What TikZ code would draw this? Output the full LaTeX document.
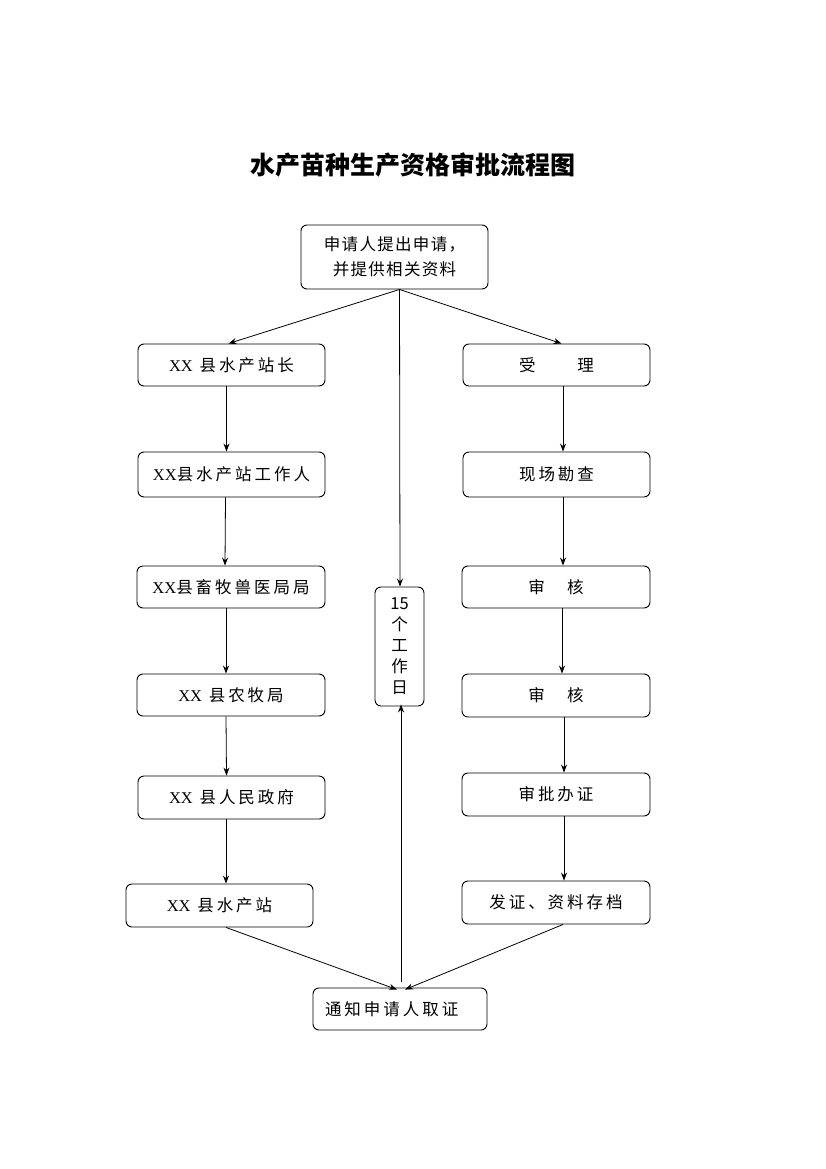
\documentclass[tikz,border=0pt]{standalone}
\usepackage{fontspec}
\usetikzlibrary{arrows.meta}
\setmainfont{Liberation Serif}
\newfontfamily\cjk[LetterSpace=18]{Noto Sans CJK SC}
\newfontfamily\cjktop[LetterSpace=8]{Noto Sans CJK SC}
\newfontfamily\cjkplain{Noto Sans CJK SC}
\newfontfamily\lat{Liberation Serif}
\newcommand{\XX}{{\lat XX}}
\begin{document}
\begin{tikzpicture}[x=1pt,y=-1pt,
  fbox/.style={draw, rounded corners=6pt, line width=0.9pt, minimum width=187pt, minimum height=42pt, inner sep=2pt, font=\cjk\fontsize{16.5}{20}\selectfont},
  arr/.style={-{Stealth[length=8pt,width=6pt]}, line width=0.8pt}]
\useasboundingbox (0,0) rectangle (826,1169);
\node (title) at (413,165) {\cjkplain\bfseries\fontsize{25}{29}\selectfont 水产苗种生产资格审批流程图};
\node[fbox, minimum height=64pt, font=\cjktop\fontsize{16.5}{25}\selectfont, align=center] (top) at (394.5,257) {申请人提出申请，\\并提供相关资料};
% left column
\node[fbox] (L1) at (231.5,365) {\XX{} 县水产站长};
\node[fbox, minimum height=45pt] (L2) at (231.5,474.5) {\XX 县水产站工作人};
\node[fbox, minimum width=188pt] (L3) at (231,587) {\XX 县畜牧兽医局局};
\node[fbox, minimum width=188pt] (L4) at (231,695) {\XX{} 县农牧局};
\node[fbox, minimum height=43pt] (L5) at (231.5,797.5) {\XX{} 县人民政府};
\node[fbox, minimum height=43pt] (L6) at (219.5,905.5) {\XX{} 县水产站};
% middle
\node[fbox, minimum width=49pt, minimum height=119pt, font=\cjkplain\fontsize{16.5}{21}\selectfont, align=center] (M) at (399.5,646.5) {15\\个\\工\\作\\日};
% right column
\node[fbox] (R1) at (556.5,365) {受　　理};
\node[fbox, minimum height=45pt] (R2) at (556.5,474.5) {现场勘查};
\node[fbox, minimum width=188pt] (R3) at (556,587) {审　核};
\node[fbox, minimum width=188pt, minimum height=43pt] (R4) at (556,695.5) {审　核};
\node[fbox, minimum width=188pt, minimum height=43pt] (R5) at (556,794.5) {审批办证};
\node[fbox, minimum width=188pt, minimum height=43pt] (R6) at (556,902.5) {发证、资料存档};
% bottom
\node[fbox, minimum width=174pt, text width=150pt, inner xsep=12pt, align=left] (B) at (400,1009) {通知申请人取证};
\coordinate (c) at (401,982);
% arrows from top
\draw[arr] ([xshift=5pt]top.south) -- ([xshift=-3pt]L1.north);
\draw[arr] ([xshift=5pt]top.south) -- ([xshift=5pt]R1.north);
\draw[arr] ([xshift=5pt]top.south) -- ([xshift=0.5pt]M.north);
% left chain
\draw[arr] ([xshift=-5pt]L1.south) -- ([xshift=-5pt]L2.north);
\draw[arr] ([xshift=-6pt]L2.south) -- ([xshift=-6pt]L3.north);
\draw[arr] ([xshift=-5pt]L3.south) -- ([xshift=-5pt]L4.north);
\draw[arr] ([xshift=-5pt]L4.south) -- ([xshift=-5pt]L5.north);
\draw[arr] ([xshift=-5.5pt]L5.south) -- ([xshift=6.5pt]L6.north);
% right chain
\draw[arr] ([xshift=6.5pt]R1.south) -- ([xshift=6.5pt]R2.north);
\draw[arr] ([xshift=6.5pt]R2.south) -- ([xshift=7pt]R3.north);
\draw[arr] ([xshift=6pt]R3.south) -- ([xshift=6pt]R4.north);
\draw[arr] ([xshift=8pt]R4.south) -- ([xshift=8pt]R5.north);
\draw[arr] ([xshift=8pt]R5.south) -- ([xshift=8pt]R6.north);
% to bottom
\draw[arr] ([xshift=6.5pt]L6.south) -- ([xshift=-3pt,yshift=-2pt]B.north);
\draw[arr] ([xshift=7pt]R6.south) -- ([xshift=5pt,yshift=-2pt]B.north);
\draw[arr] (c) -- ([xshift=1.5pt,yshift=2pt]M.south);
\end{tikzpicture}
\end{document}
